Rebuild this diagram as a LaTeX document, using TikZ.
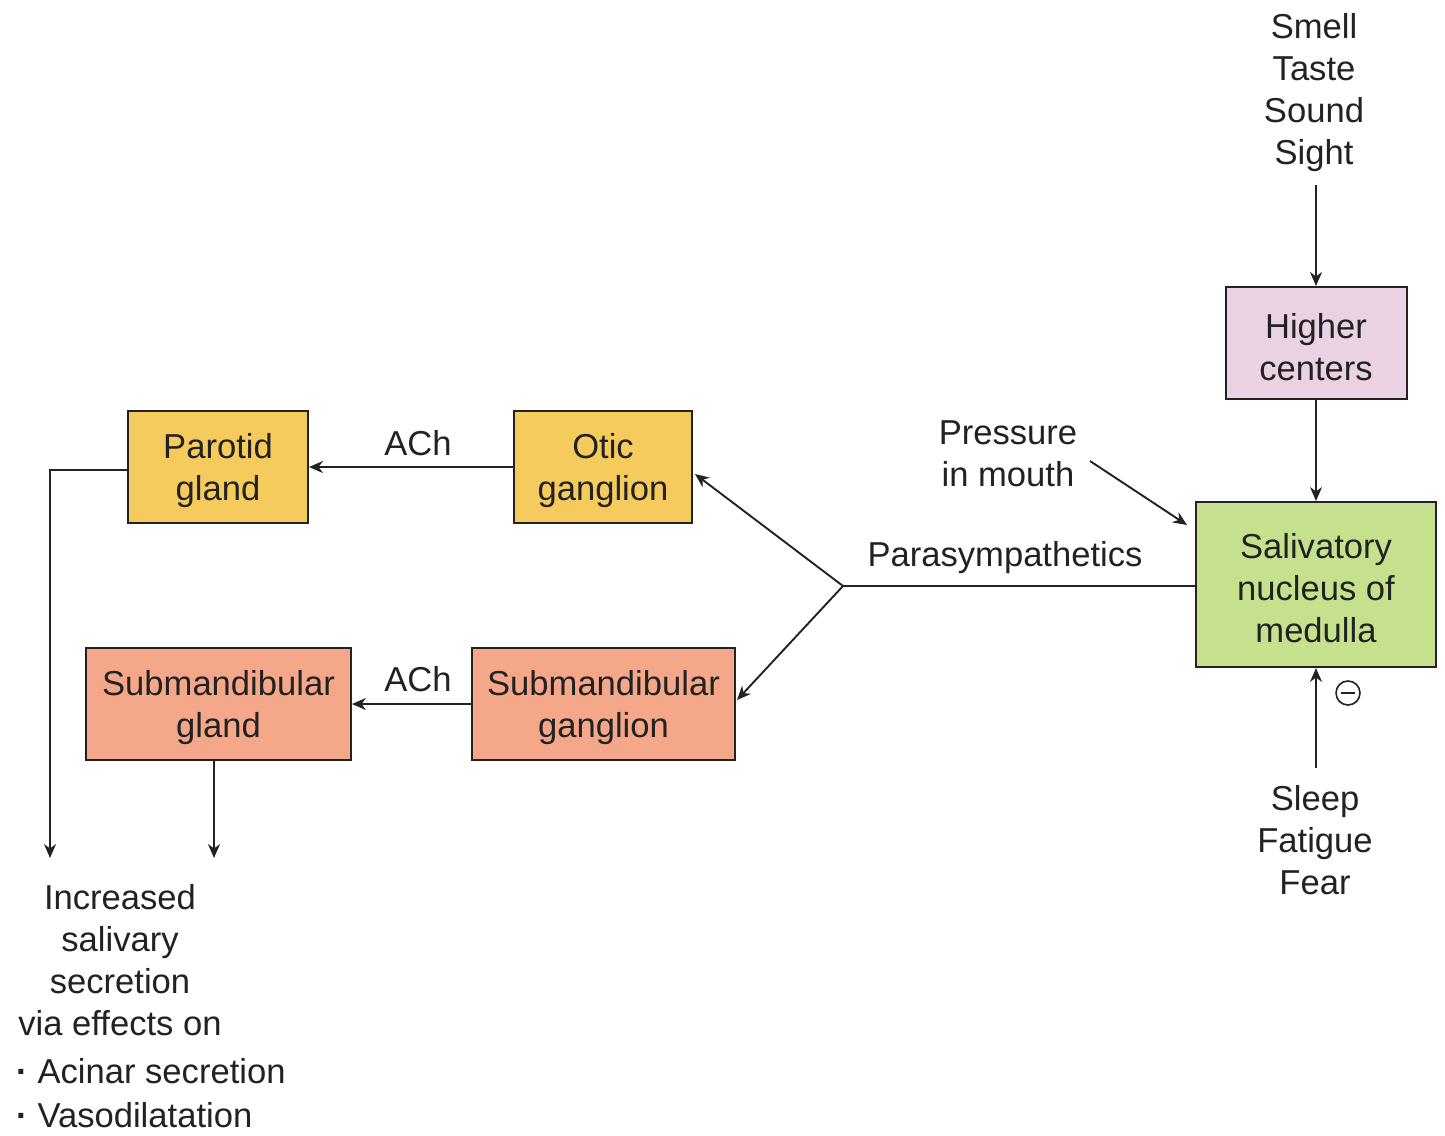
\documentclass[tikz,border=0pt]{standalone}
\usepackage{fontspec}
\setmainfont{Liberation Sans}
\usetikzlibrary{arrows.meta,calc}
\definecolor{pinkbox}{HTML}{EAD2E4}
\definecolor{greenbox}{HTML}{C6E18E}
\definecolor{yellowbox}{HTML}{F6CB5E}
\definecolor{salmonbox}{HTML}{F5A889}
\definecolor{ink}{HTML}{222222}
\tikzset{
  lbl/.style={align=center, inner sep=0pt, text=ink, font=\fontsize{17.3}{21}\selectfont},
  box/.style={draw=ink, line width=1pt, inner sep=0pt},
  boxtext/.style={label={[lbl, yshift=-2pt]center:#1}},
  conn/.style={draw=ink, line width=0.95pt},
  arr/.style={conn, -{Stealth[length=7pt,width=6pt]}}
}
\begin{document}
\begin{tikzpicture}[x=0.5pt,y=-0.5pt]
\useasboundingbox (0,0) rectangle (1445,1135);
% boxes
\node[box, fill=pinkbox, minimum width=90.5pt, minimum height=56pt, boxtext={Higher\\centers}] (hc) at (1316,343) {};
\node[box, fill=greenbox, minimum width=120pt, minimum height=82.5pt, boxtext={Salivatory\\nucleus of\\medulla}] (sn) at (1316,584.5) {};
\node[box, fill=yellowbox, minimum width=90pt, minimum height=56pt, boxtext={Parotid\\gland}] (pg) at (218,467) {};
\node[box, fill=yellowbox, minimum width=89pt, minimum height=56pt, boxtext={Otic\\ganglion}] (og) at (603,467) {};
\node[box, fill=salmonbox, minimum width=132.5pt, minimum height=56pt, boxtext={Submandibular\\gland}] (sg) at (218.5,704) {};
\node[box, fill=salmonbox, minimum width=131.5pt, minimum height=56pt, boxtext={Submandibular\\ganglion}] (sgg) at (603.5,704) {};
% labels
\node[lbl] (senses) at (1314,93) {Smell\\Taste\\Sound\\Sight};
\node[lbl] (press) at (1008,454) {Pressure\\in mouth};
\node[lbl] (para) at (1005,558) {Parasympathetics};
\node[lbl] (ach1) at (418,443) {ACh};
\node[lbl] (ach2) at (418,679) {ACh};
\node[lbl] (sleep) at (1315,840) {Sleep\\Fatigue\\Fear};
\node[lbl] (incr) at (120,960) {Increased\\salivary\\secretion\\via effects on};
\node[lbl, anchor=west] (acin) at (16,1071) {\textbf{·} Acinar secretion};
\node[lbl, anchor=west] (vaso) at (16,1115) {\textbf{·} Vasodilatation};
% coordinates
\coordinate (sensesb) at (1316,185);
\coordinate (pressa) at (1090,461);
\coordinate (presse) at (1187,525);
\coordinate (br) at (843,586);
\coordinate (sleept) at (1316,768);
\coordinate (pcorner) at (50,470);
\coordinate (pend) at (50,858);
\coordinate (send) at (214,858);
\coordinate (ogin) at (695,474);
\coordinate (sgin) at (737,700);
\coordinate (sgout) at (214,760);
% connectors
\draw[arr] (sensesb) -- (hc.north);
\draw[arr] (hc.south) -- (sn.north);
\draw[arr] (pressa) -- (presse);
\draw[conn] (sn.west |- br) -- (br);
\draw[arr] (br) -- (ogin);
\draw[arr] (br) -- (sgin);
\draw[arr] (og.west) -- (pg.east);
\draw[arr] (sgg.west) -- (sg.east);
\draw[arr] (pg.west |- pcorner) -- (pcorner) -- (pend);
\draw[arr] (sgout) -- (send);
\draw[arr] (sleept) -- (sn.south);
% inhibition sign
\node[draw=ink, line width=0.8pt, circle, minimum size=12pt, inner sep=0pt] (minus) at (1348,693) {};
\draw[ink, line width=1pt] ($(minus.center)+(-7,0)$) -- ($(minus.center)+(7,0)$);
\end{tikzpicture}
\end{document}
